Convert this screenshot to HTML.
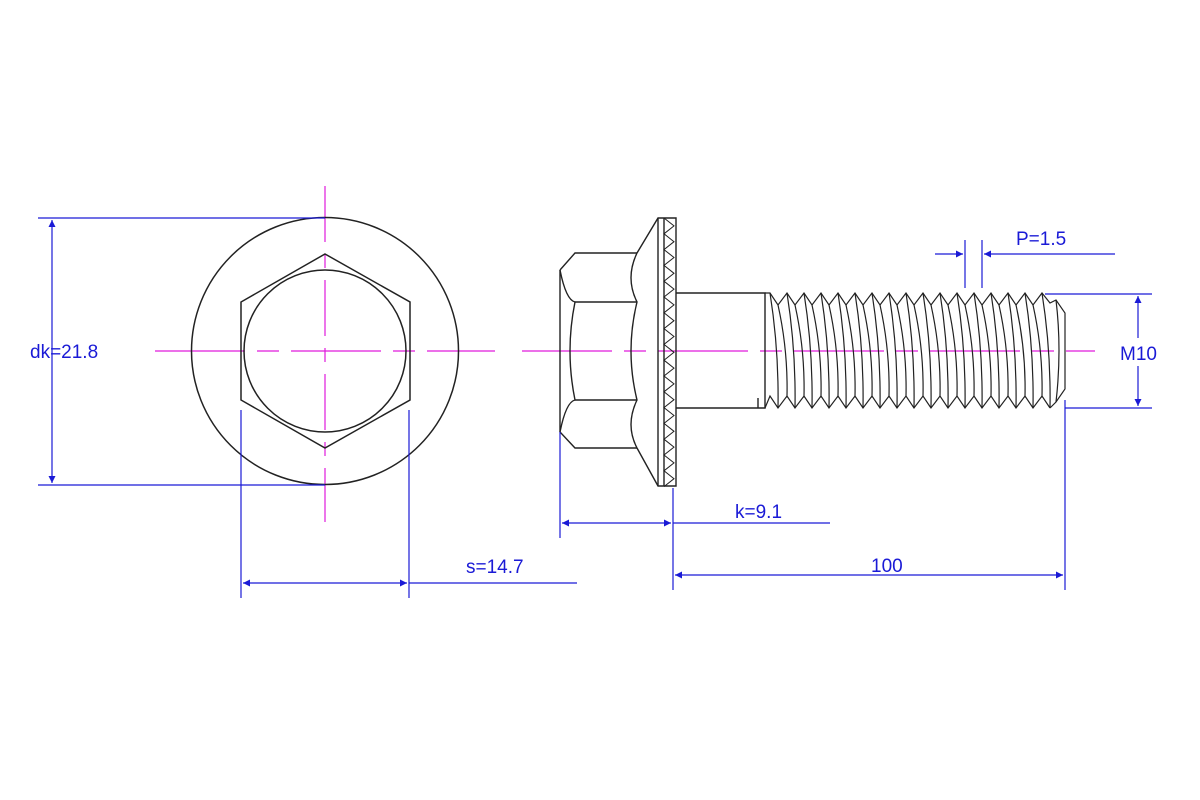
<!DOCTYPE html>
<html><head><meta charset="utf-8"><style>
html,body{margin:0;padding:0;background:#fff;}
svg{display:block}
text{font-family:"Liberation Sans",sans-serif;font-size:19px;fill:#1a1ad6}
</style></head><body>
<svg width="1200" height="800" viewBox="0 0 1200 800">
<defs>
<marker id="a" viewBox="0 0 10 10" refX="10" refY="5" markerWidth="16" markerHeight="7" markerUnits="userSpaceOnUse" orient="auto-start-reverse"><path d="M0,0L10,5L0,10z" fill="#1a1ad6"/></marker>
</defs>
<g stroke="#e01adc" stroke-width="1.2" fill="none">
<line x1="325" y1="186" x2="325" y2="522" stroke-dasharray="56,12,14,12"/>
<line x1="155" y1="351" x2="495" y2="351" stroke-dasharray="90,12,22,12"/>
<line x1="522" y1="351" x2="1095" y2="351" stroke-dasharray="90,12,22,12"/>
</g>
<g stroke="#222" stroke-width="1.5" fill="none">
<circle cx="325" cy="351" r="133.5"/>
<polygon points="325,254 410,302 410,400 325,448 241,400 241,302"/>
<circle cx="325" cy="351" r="81"/>
</g>
<g stroke="#222" stroke-width="1.4" fill="none">
<path d="M560,270 L575,253 L637,253"/>
<path d="M560,270 L560,432 L575,448 L637,448"/>
<path d="M575,302 L637,302 M575,400 L637,400"/>
<path d="M560,270 Q566,300 575,302 Q565,351 575,400 Q566,402 560,432"/>
<path d="M637,253 Q625,278 637,302 Q625,351 637,400 Q625,425 637,448"/>
<path d="M637,253 L658,218 L676,218 L676,486 L658,486 L637,448"/>
<line x1="658" y1="218" x2="658" y2="486"/>
<line x1="664" y1="218" x2="664" y2="486"/>
<path d="M664,218 l10,7.9 l-10,7.9 l10,7.9 l-10,7.9 l10,7.9 l-10,7.9 l10,7.9 l-10,7.9 l10,7.9 l-10,7.9 l10,7.9 l-10,7.9 l10,7.9 l-10,7.9 l10,7.9 l-10,7.9 l10,7.9 l-10,7.9 l10,7.9 l-10,7.9 l10,7.9 l-10,7.9 l10,7.9 l-10,7.9 l10,7.9 l-10,7.9 l10,7.9 l-10,7.9 l10,7.9 l-10,7.9 l10,7.9 l-10,7.9 l10,7.9 l-10,7.9" stroke-width="1"/>
<path d="M676,293 L765,293 L765,408 L676,408"/>
<path d="M758,398 L758,408"/>
</g>
<g stroke="#222" stroke-width="1.2" fill="none">
<polyline points="765,293 770,293 778,305 787,293 795,305 804,293 812,305 821,293 829,305 838,293 846,305 855,293 863,305 872,293 880,305 889,293 897,305 906,293 914,305 923,293 931,305 940,293 948,305 957,293 965,305 974,293 982,305 991,293 999,305 1008,293 1016,305 1025,293 1033,305 1042,293 1050,303 1056,300 1065,313 1065,389 1056,402 1050,408"/>
<polyline points="765,408 770,396 778,408 787,396 795,408 804,396 812,408 821,396 829,408 838,396 846,408 855,396 863,408 872,396 880,408 889,396 897,408 906,396 914,408 923,396 931,408 940,396 948,408 957,396 965,408 974,396 982,408 991,396 999,408 1008,396 1016,408 1025,396 1033,408 1042,396 1050,408"/>
<path d="M770,293 Q779,350 778,408 M787,293 Q796,350 795,408 M804,293 Q813,350 812,408 M821,293 Q830,350 829,408 M838,293 Q847,350 846,408 M855,293 Q864,350 863,408 M872,293 Q881,350 880,408 M889,293 Q898,350 897,408 M906,293 Q915,350 914,408 M923,293 Q932,350 931,408 M940,293 Q949,350 948,408 M957,293 Q966,350 965,408 M974,293 Q983,350 982,408 M991,293 Q1000,350 999,408 M1008,293 Q1017,350 1016,408 M1025,293 Q1034,350 1033,408 M1042,293 Q1051,350 1050,408"/>
<path d="M778,305 Q788,350 787,396 M795,305 Q805,350 804,396 M812,305 Q822,350 821,396 M829,305 Q839,350 838,396 M846,305 Q856,350 855,396 M863,305 Q873,350 872,396 M880,305 Q890,350 889,396 M897,305 Q907,350 906,396 M914,305 Q924,350 923,396 M931,305 Q941,350 940,396 M948,305 Q958,350 957,396 M965,305 Q975,350 974,396 M982,305 Q992,350 991,396 M999,305 Q1009,350 1008,396 M1016,305 Q1026,350 1025,396 M1033,305 Q1043,350 1042,396 M1056,300 Q1062,350 1056,402"/>
</g>
<g stroke="#1a1ad6" stroke-width="1.2" fill="none">
<line x1="38" y1="218" x2="325" y2="218"/>
<line x1="38" y1="485" x2="325" y2="485"/>
<line x1="52" y1="220" x2="52" y2="483" marker-start="url(#a)" marker-end="url(#a)"/>
<line x1="241" y1="410" x2="241" y2="598"/>
<line x1="409" y1="410" x2="409" y2="598"/>
<line x1="243" y1="583" x2="407" y2="583" marker-start="url(#a)" marker-end="url(#a)"/>
<line x1="409" y1="583" x2="577" y2="583"/>
<line x1="560" y1="432" x2="560" y2="538"/>
<line x1="673" y1="488" x2="673" y2="590"/>
<line x1="562" y1="523" x2="671" y2="523" marker-start="url(#a)" marker-end="url(#a)"/>
<line x1="673" y1="523" x2="830" y2="523"/>
<line x1="1065" y1="400" x2="1065" y2="590"/>
<line x1="675" y1="575" x2="1063" y2="575" marker-start="url(#a)" marker-end="url(#a)"/>
<line x1="1045" y1="294" x2="1152" y2="294"/>
<line x1="1065" y1="408" x2="1152" y2="408"/>
<line x1="1138" y1="296" x2="1138" y2="338" marker-start="url(#a)"/>
<line x1="1138" y1="366" x2="1138" y2="406" marker-end="url(#a)"/>
<line x1="965" y1="240" x2="965" y2="288"/>
<line x1="982" y1="240" x2="982" y2="288"/>
<line x1="935" y1="254" x2="963" y2="254" marker-end="url(#a)"/>
<line x1="1115" y1="254" x2="984" y2="254" marker-end="url(#a)"/>
</g>
<text x="30" y="358">dk=21.8</text>
<text x="466" y="573">s=14.7</text>
<text x="735" y="518">k=9.1</text>
<text x="871" y="572">100</text>
<text x="1120" y="360">M10</text>
<text x="1016" y="245">P=1.5</text>
</svg>
</body></html>
